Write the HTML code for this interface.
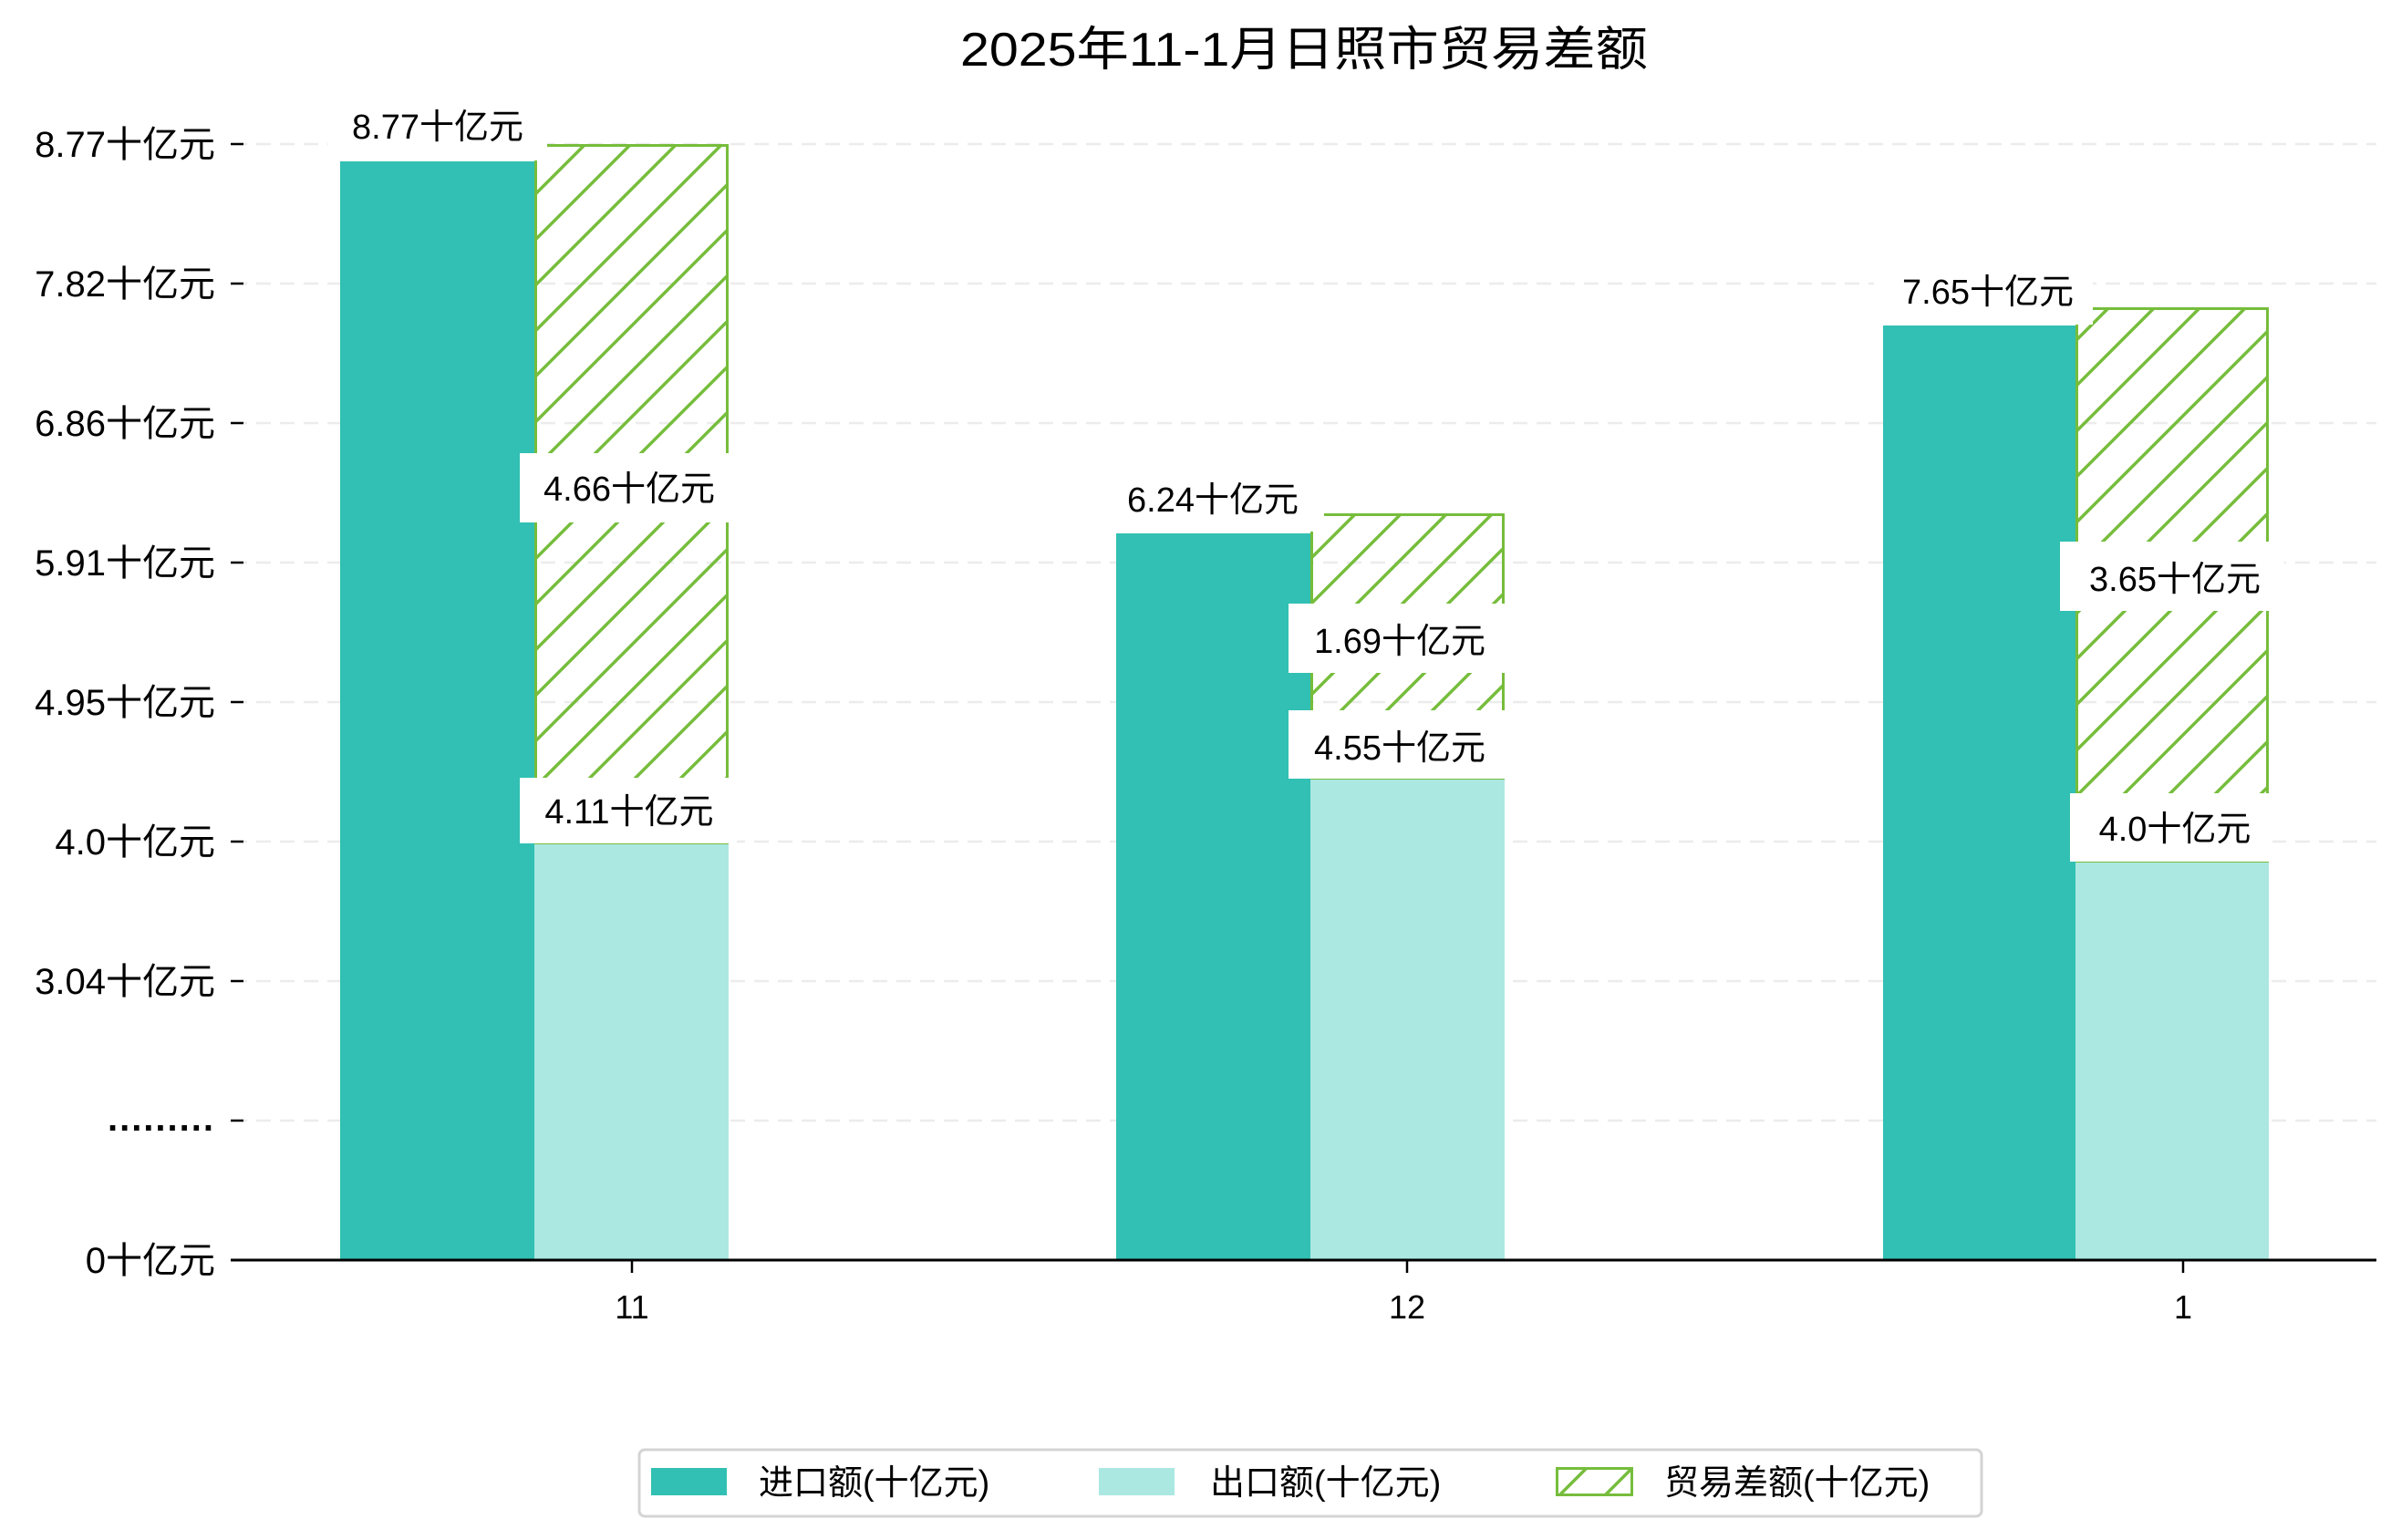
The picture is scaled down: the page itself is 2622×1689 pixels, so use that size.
<!DOCTYPE html>
<html><head><meta charset="utf-8"><style>
html,body{margin:0;padding:0;background:#fff;}
svg{display:block;}
text{font-family:"Liberation Sans","WenQuanYi Zen Hei","Noto Sans CJK SC",sans-serif;fill:#000;}
</style></head><body>
<svg width="2622" height="1689" viewBox="0 0 2622 1689" xmlns="http://www.w3.org/2000/svg">
<defs>
<pattern id="h" patternUnits="userSpaceOnUse" width="50" height="50">
<path d="M-5,55 L55,-5 M-30,30 L30,-30 M20,80 L80,20" stroke="#76bd3c" stroke-width="3.5"/>
</pattern>
</defs>
<text x="1430" y="72" font-size="52" text-anchor="middle" textLength="754" lengthAdjust="spacingAndGlyphs">2025年11-1月日照市贸易差额</text>
<g stroke="#ececec" stroke-width="2.5" stroke-dasharray="16,10">
<line x1="255" y1="158" x2="2606" y2="158"/><line x1="255" y1="311" x2="2606" y2="311"/>
<line x1="255" y1="464" x2="2606" y2="464"/><line x1="255" y1="617" x2="2606" y2="617"/>
<line x1="255" y1="770" x2="2606" y2="770"/><line x1="255" y1="923" x2="2606" y2="923"/>
<line x1="255" y1="1076" x2="2606" y2="1076"/><line x1="255" y1="1229" x2="2606" y2="1229"/>
</g>
<g stroke="#000" stroke-width="2.5">
<line x1="253" y1="158" x2="267" y2="158"/><line x1="253" y1="311" x2="267" y2="311"/>
<line x1="253" y1="464" x2="267" y2="464"/><line x1="253" y1="617" x2="267" y2="617"/>
<line x1="253" y1="770" x2="267" y2="770"/><line x1="253" y1="923" x2="267" y2="923"/>
<line x1="253" y1="1076" x2="267" y2="1076"/><line x1="253" y1="1229" x2="267" y2="1229"/>
<line x1="253" y1="1382" x2="267" y2="1382"/>
</g>
<g font-size="40" text-anchor="end">
<text x="236" y="172">8.77十亿元</text><text x="236" y="325">7.82十亿元</text>
<text x="236" y="478">6.86十亿元</text><text x="236" y="631">5.91十亿元</text>
<text x="236" y="784">4.95十亿元</text><text x="236" y="937">4.0十亿元</text>
<text x="236" y="1090">3.04十亿元</text><text x="236" y="1240" font-weight="bold" letter-spacing="2">.........</text>
<text x="236" y="1396">0十亿元</text>
</g>
<rect x="373" y="177" width="213" height="1205" fill="#31c0b3"/>
<rect x="586" y="925" width="213" height="457" fill="#abe8e2"/>
<rect x="587.5" y="159.5" width="210" height="765" fill="url(#h)" stroke="#76bd3c" stroke-width="3"/>
<rect x="1224" y="585" width="213" height="797" fill="#31c0b3"/>
<rect x="1437" y="854" width="213" height="528" fill="#abe8e2"/>
<rect x="1438.5" y="564.5" width="210" height="289" fill="url(#h)" stroke="#76bd3c" stroke-width="3"/>
<rect x="2065" y="357" width="211" height="1025" fill="#31c0b3"/>
<rect x="2276" y="945" width="212" height="437" fill="#abe8e2"/>
<rect x="2277.5" y="338.5" width="209" height="606" fill="url(#h)" stroke="#76bd3c" stroke-width="3"/>
<g fill="#fff">
<rect x="360" y="110" width="240" height="66"/>
<rect x="570" y="497" width="238" height="76"/>
<rect x="570" y="853" width="238" height="72"/>
<rect x="1212" y="517" width="240" height="66"/>
<rect x="1413" y="662" width="245" height="76"/>
<rect x="1413" y="779" width="245" height="75"/>
<rect x="2055" y="290" width="240" height="66"/>
<rect x="2259" y="594" width="246" height="76"/>
<rect x="2270" y="870" width="222" height="75"/>
</g>
<g font-size="38" text-anchor="middle">
<text x="480" y="152">8.77十亿元</text>
<text x="690" y="549">4.66十亿元</text>
<text x="690" y="903">4.11十亿元</text>
<text x="1330" y="561">6.24十亿元</text>
<text x="1535" y="716">1.69十亿元</text>
<text x="1535" y="833">4.55十亿元</text>
<text x="2180" y="333">7.65十亿元</text>
<text x="2385" y="648">3.65十亿元</text>
<text x="2385" y="922">4.0十亿元</text>
</g>
<line x1="253" y1="1382" x2="2606" y2="1382" stroke="#000" stroke-width="3"/>
<g stroke="#000" stroke-width="2.5">
<line x1="693" y1="1382" x2="693" y2="1396"/><line x1="1543" y1="1382" x2="1543" y2="1396"/><line x1="2394" y1="1382" x2="2394" y2="1396"/>
</g>
<g font-size="36" text-anchor="middle">
<text x="693" y="1446">11</text><text x="1543" y="1446">12</text><text x="2394" y="1446">1</text>
</g>
<rect x="701" y="1590" width="1472" height="73" rx="6" fill="#fff" stroke="#d4d4d4" stroke-width="3"/>
<rect x="714" y="1610" width="83" height="30" fill="#31c0b3"/>
<rect x="1205" y="1610" width="83" height="30" fill="#abe8e2"/>
<rect x="1707.5" y="1610.5" width="82" height="29" fill="url(#h)" stroke="#76bd3c" stroke-width="3"/>
<g font-size="38">
<text x="832" y="1639">进口额(十亿元)</text>
<text x="1327" y="1639">出口额(十亿元)</text>
<text x="1825" y="1639">贸易差额(十亿元)</text>
</g>
</svg>
</body></html>
